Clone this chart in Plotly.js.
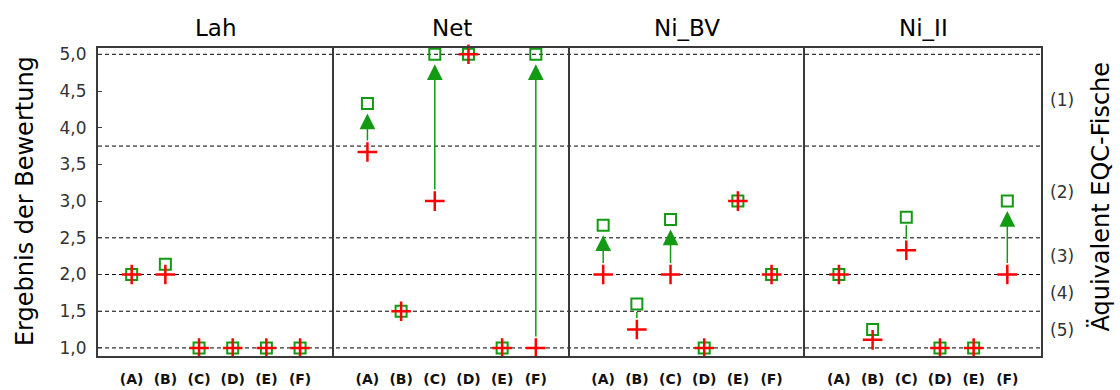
<!DOCTYPE html>
<html>
<head>
<meta charset="utf-8">
<script src="https://cdn.plot.ly/plotly-3.0.1.min.js"></script>
<style>html,body{margin:0;padding:0;background:#fff;}</style>
</head>
<body>
<div id="chart" style="width:1120px;height:390px;"></div>
<script>
// ---- data ----
const categories = ['(A)', '(B)', '(C)', '(D)', '(E)', '(F)'];
const panels = ['Lah', 'Net', 'Ni_BV', 'Ni_II'];
const redLah    = [2.0, 2.0, 1.0, 1.0, 1.0, 1.0];
const greenLah  = [2.0, 2.14, 1.0, 1.0, 1.0, 1.0];
const redNet    = [3.67, 1.5, 3.0, 5.0, 1.0, 1.0];
const greenNet  = [4.33, 1.5, 5.0, 5.0, 1.0, 5.0];
const redNiBV   = [2.0, 1.25, 2.0, 1.0, 3.0, 2.0];
const greenNiBV = [2.67, 1.6, 2.75, 1.0, 3.0, 2.0];
const redNiII   = [2.0, 1.11, 2.33, 1.0, 1.0, 2.0];
const greenNiII = [2.0, 1.25, 2.78, 1.0, 1.0, 3.0];
const yTicks = [1.0, 1.5, 2.0, 2.5, 3.0, 3.5, 4.0, 4.5, 5.0];
const classBounds = [5.0, 3.75, 2.5, 2.0, 1.5, 1.0];
const classLabels = ['(1)', '(2)', '(3)', '(4)', '(5)'];
const yTitle = 'Ergebnis der Bewertung';
const rightTitle = 'Äquivalent EQC-Fische';

const reds = [redLah, redNet, redNiBV, redNiII];
const greens = [greenLah, greenNet, greenNiBV, greenNiII];

// ---- style ----
const RED = '#ff0000';
const GREEN = '#139a13';
const FRAME = '#3a3a3a';
const FONT = 'DejaVu Sans, Arial, sans-serif';
const xIdx = categories.map((c, i) => i);

const traces = [];
const annotations = [];
const layout = {
  width: 1120, height: 390,
  margin: {l: 98, r: 79, t: 48, b: 34, pad: 0},
  paper_bgcolor: '#ffffff', plot_bgcolor: '#ffffff',
  separators: ',.',
  showlegend: false,
  font: {family: FONT, color: '#000'},
  shapes: [],
  annotations: annotations
};

panels.forEach((name, p) => {
  const xa = p === 0 ? 'x' : 'x' + (p + 1);
  const ya = p === 0 ? 'y' : 'y' + (p + 1);
  const xKey = p === 0 ? 'xaxis' : 'xaxis' + (p + 1);
  const yKey = p === 0 ? 'yaxis' : 'yaxis' + (p + 1);
  layout[xKey] = {
    domain: [p / 4, (p + 1) / 4],
    anchor: ya,
    range: [-1, 6],
    tickmode: 'array', tickvals: xIdx, ticktext: categories,
    ticks: '', showgrid: false, zeroline: false,
    showline: true, mirror: true, linecolor: FRAME, linewidth: 2,
    tickfont: {family: FONT, size: 14, color: '#111', weight: 'bold'},
    ticklabelstandoff: 9,
    fixedrange: true
  };
  const yax = {
    anchor: xa,
    range: [0.89, 5.086],
    showgrid: false, zeroline: false,
    showline: true, mirror: p === panels.length - 1, linecolor: FRAME, linewidth: 2,
    fixedrange: true
  };
  if (p === 0) {
    Object.assign(yax, {
      tickmode: 'array', tickvals: yTicks, tickformat: '.1f',
      ticks: 'inside', ticklen: 4, tickcolor: FRAME, tickwidth: 1,
      tickfont: {family: FONT, size: 17, color: '#333'},
      ticklabelstandoff: 6
    });
  } else {
    Object.assign(yax, {matches: 'y', showticklabels: false, ticks: ''});
  }
  layout[yKey] = yax;

  // panel title
  annotations.push({
    text: name, xref: 'paper', yref: 'paper',
    x: (p + 0.5) / 4, y: 1.065, xanchor: 'center', yanchor: 'middle',
    showarrow: false, font: {family: FONT, size: 23, color: '#000'}
  });

  // green squares (drawn first)
  traces.push({
    type: 'scatter', mode: 'markers', x: xIdx, y: greens[p],
    xaxis: xa, yaxis: ya, cliponaxis: false, hoverinfo: 'skip',
    marker: {symbol: 'square-open', size: 11, color: GREEN, line: {color: GREEN, width: 2}}
  });
  // red crosses (on top)
  traces.push({
    type: 'scatter', mode: 'markers', x: xIdx, y: reds[p],
    xaxis: xa, yaxis: ya, cliponaxis: false, hoverinfo: 'skip',
    marker: {symbol: 'cross-thin', size: 14, color: RED, line: {color: RED, width: 2.5}}
  });

  // arrows from red to green
  xIdx.forEach(i => {
    const r = reds[p][i], g = greens[p][i];
    const d = Math.abs(g - r);
    if (d < 0.25) return;
    const withHead = d > 0.5;
    annotations.push({
      xref: xa, yref: ya, axref: xa, ayref: ya,
      x: i, y: g, ax: i, ay: r, text: '',
      showarrow: true,
      arrowhead: withHead ? 2 : 0,
      arrowsize: 2.1, arrowwidth: 1.5, arrowcolor: GREEN,
      standoff: withHead ? 10 : 8, startstandoff: 10
    });
  });
});

// dashed class boundaries across all panels
classBounds.forEach(b => {
  layout.shapes.push({
    type: 'line', xref: 'paper', x0: 0, x1: 1, yref: 'y', y0: b, y1: b,
    layer: 'below', line: {color: '#000', width: 1, dash: '4px,3px'}
  });
});

// class labels on the right
classLabels.forEach((lab, k) => {
  annotations.push({
    text: lab, xref: 'paper', yref: 'y',
    x: 1.0223, y: (classBounds[k] + classBounds[k + 1]) / 2,
    xanchor: 'center', yanchor: 'middle', showarrow: false,
    font: {family: FONT, size: 17, color: '#333'}
  });
});

// axis titles
annotations.push({
  text: yTitle, xref: 'paper', yref: 'paper', x: -0.0774, y: 0.503,
  xanchor: 'center', yanchor: 'middle', textangle: -90, showarrow: false,
  font: {family: FONT, size: 24, color: '#000'}
});
annotations.push({
  text: rightTitle, xref: 'paper', yref: 'paper', x: 1.0626, y: 0.518,
  xanchor: 'center', yanchor: 'middle', textangle: -90, showarrow: false,
  font: {family: FONT, size: 24, color: '#000'}
});

Plotly.newPlot('chart', traces, layout, {staticPlot: true, displayModeBar: false});
</script>
</body>
</html>
